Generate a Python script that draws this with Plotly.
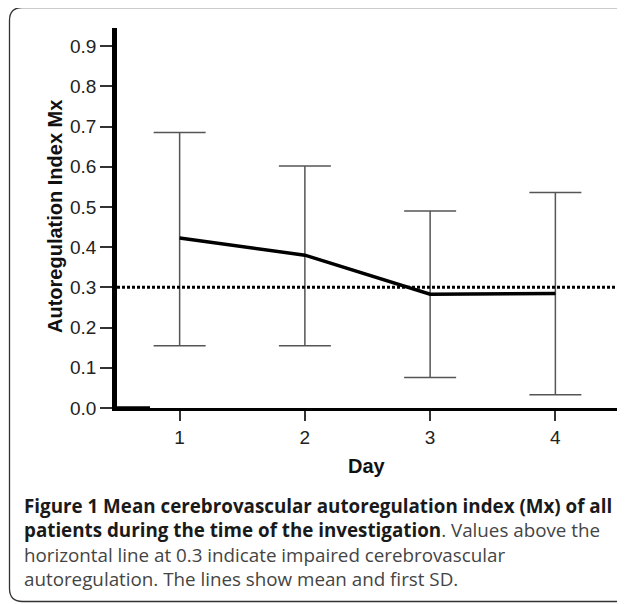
import plotly.graph_objects as go

# ---- data ----
days = [1, 2, 3, 4]
mean_mx = [0.423, 0.380, 0.283, 0.285]
sd_plus = [0.262, 0.222, 0.207, 0.251]
sd_minus = [0.268, 0.225, 0.207, 0.252]
threshold = 0.3
x_ticks = [1, 2, 3, 4]
y_ticks = [0.0, 0.1, 0.2, 0.3, 0.4, 0.5, 0.6, 0.7, 0.8, 0.9]
y_tick_labels = ["0.0", "0.1", "0.2", "0.3", "0.4", "0.5", "0.6", "0.7", "0.8", "0.9"]
y_title = "Autoregulation Index Mx"
x_title = "Day"
caption_lines = [
    "<b><span style='color:#1a1a1a'>Figure 1 Mean cerebrovascular autoregulation index (Mx) of all</span></b>",
    "<b><span style='color:#1a1a1a'>patients during the time of the investigation</span></b>. Values above the",
    "horizontal line at 0.3 indicate impaired cerebrovascular",
    "autoregulation. The lines show mean and first SD.",
]

OFF = 8  # page body margin
W, H = 625 - OFF, 604 - OFF
L, R, T, B = 117 - OFF, 7, 28 - OFF, 196
PW, PH = W - L - R, H - T - B


def px(x):
    return (x - OFF - L) / PW


def py(y):
    return (H - B - (y - OFF)) / PH


fig = go.Figure()
fig.add_trace(go.Scatter(
    x=days, y=mean_mx, mode="lines",
    line=dict(color="black", width=3.5),
    error_y=dict(type="data", symmetric=False, array=sd_plus, arrayminus=sd_minus,
                 color="#555555", thickness=1.5, width=26),
    showlegend=False, hoverinfo="skip",
))

shapes = [
    dict(type="line", xref="paper", yref="y", x0=0, x1=1, y0=threshold, y1=threshold,
         line=dict(color="black", width=3, dash="3px,2px")),
    dict(type="line", xref="paper", yref="paper", x0=px(115), x1=px(150), y0=py(408.5), y1=py(408.5),
         line=dict(color="black", width=4.5)),
]

# rounded frame
x0, y0, x1, y1, r = 9.5, 7.5, 640, 601.5, 13
path = (f"M {px(x0)},{py(y0 + r)} Q {px(x0)},{py(y0)} {px(x0 + r)},{py(y0)} "
        f"L {px(x1)},{py(y0)} L {px(x1)},{py(y1)} L {px(x0 + r)},{py(y1)} "
        f"Q {px(x0)},{py(y1)} {px(x0)},{py(y1 - r)} Z")
shapes.append(dict(type="path", xref="paper", yref="paper", path=path,
                   line=dict(color="#333333", width=1.3)))

annotations = [
    dict(text=f"<b>{y_title}</b>", xref="paper", yref="paper", x=px(55), y=py(217),
         textangle=-90, showarrow=False, xanchor="center", yanchor="middle",
         font=dict(family="Liberation Sans, Arial", size=20, color="#111111")),
    dict(text=f"<b>{x_title}</b>", xref="paper", yref="paper", x=px(367), y=py(466),
         showarrow=False, xanchor="center", yanchor="middle",
         font=dict(family="Liberation Sans, Arial", size=20, color="#111111")),
]
for i, line in enumerate(caption_lines):
    annotations.append(dict(
        text=line, xref="paper", yref="paper", x=px(22), y=py(505.5 + 24.5 * i),
        showarrow=False, xanchor="left", yanchor="middle", align="left",
        font=dict(family="Open Sans", size=18.8, color="#444444")))

fig.update_layout(
    width=W, height=H,
    margin=dict(l=L, r=R, t=T, b=B, pad=0),
    paper_bgcolor="white", plot_bgcolor="white",
    shapes=shapes, annotations=annotations,
    xaxis=dict(range=[0.5, 4.5], tickvals=x_ticks, ticktext=[str(v) for v in x_ticks],
               showgrid=False, zeroline=False, showline=True, linecolor="black", linewidth=3,
               ticks="outside", ticklen=10, tickwidth=1.5, tickcolor="#333333",
               tickfont=dict(family="Liberation Sans, Arial", size=19, color="#222222")),
    yaxis=dict(range=[0, 0.945], tickvals=y_ticks, ticktext=y_tick_labels,
               showgrid=False, zeroline=False, showline=True, linecolor="black", linewidth=4.5,
               ticks="outside", ticklen=12, tickwidth=1.5, tickcolor="#333333",
               tickfont=dict(family="Liberation Sans, Arial", size=19, color="#222222")),
)

fig.write_html("out.html")
